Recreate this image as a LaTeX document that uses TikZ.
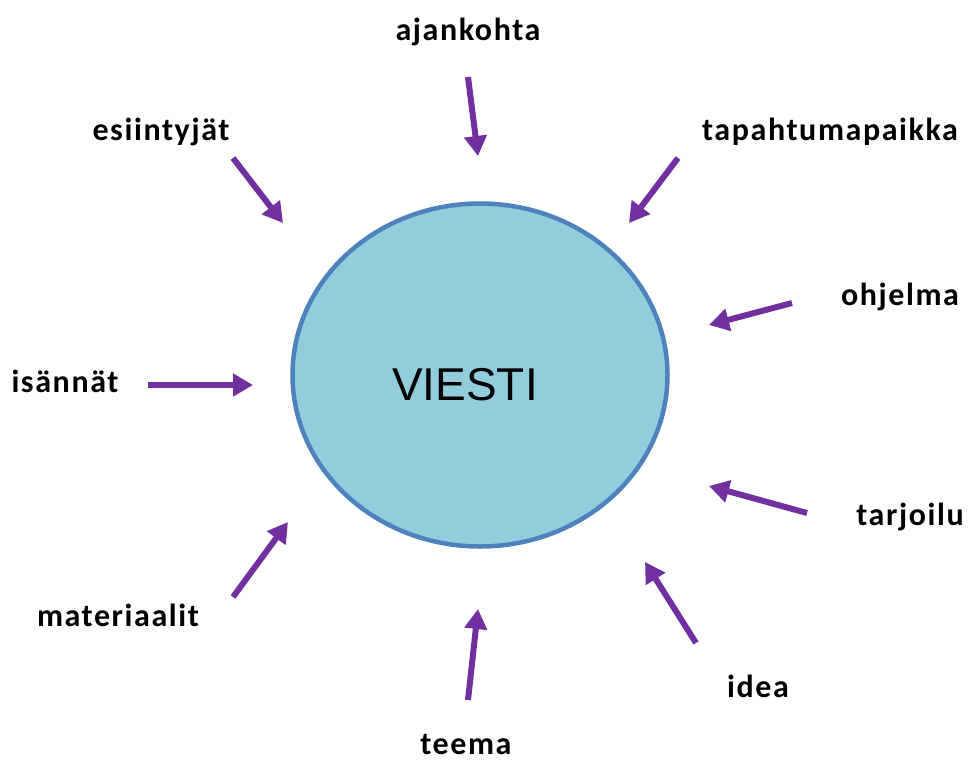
\documentclass[tikz,border=0pt]{standalone}
\usepackage{fontspec}
\setmainfont{Carlito}
\newfontfamily\lblfont[LetterSpace=5]{Carlito}
\newfontfamily\arialfont{Liberation Sans}
\usetikzlibrary{arrows.meta,shapes.geometric}
\definecolor{arrowpurple}{HTML}{7030A0}
\definecolor{circfill}{HTML}{92CDDC}
\definecolor{circline}{HTML}{4F81BD}
\tikzset{
  lbl/.style={anchor=base, inner sep=0pt, font=\lblfont\fontsize{32}{36}\selectfont\bfseries},
  inarrow/.style={draw=arrowpurple, line width=6pt, -{Triangle[width=22pt,length=20pt]}},
}
\begin{document}
\begin{tikzpicture}[x=1pt,y=-1pt]
\useasboundingbox (0,0) rectangle (969,763);
\node[ellipse, draw=circline, fill=circfill, line width=4.5pt, minimum width=375pt, minimum height=343pt, inner sep=0pt] (viesti) at (480,375) {};
\node[anchor=base, inner sep=0pt, font=\arialfont\fontsize{46}{50}\selectfont] (vtext) at (465,400) {VIESTI};

\node[lbl] (ajankohta) at (468,40) {ajankohta};
\node[lbl] (esiintyjat) at (161,140) {esiintyjät};
\node[lbl] (tapahtuma) at (830,140) {tapahtumapaikka};
\node[lbl] (ohjelma) at (900,305) {ohjelma};
\node[lbl] (isannat) at (65,392) {isännät};
\node[lbl] (tarjoilu) at (910,525) {tarjoilu};
\node[lbl] (materiaalit) at (118,626) {materiaalit};
\node[lbl] (idea) at (758,697) {idea};
\node[lbl] (teema) at (466,754) {teema};

\coordinate (t1) at (468,77);  \coordinate (h1) at (478,156);
\coordinate (t2) at (233,158); \coordinate (h2) at (283,223);
\coordinate (t3) at (678,158); \coordinate (h3) at (629,223);
\coordinate (t4) at (792,303); \coordinate (h4) at (709,325);
\coordinate (t5) at (148,385); \coordinate (h5) at (253,385);
\coordinate (t6) at (807,513); \coordinate (h6) at (709,486);
\coordinate (t7) at (233,597); \coordinate (h7) at (288,522);
\coordinate (t8) at (696,643); \coordinate (h8) at (645,562);
\coordinate (t9) at (468,700); \coordinate (h9) at (478,609);

\foreach \i in {1,...,9} { \draw[inarrow] (t\i) -- (h\i); }
\end{tikzpicture}
\end{document}
